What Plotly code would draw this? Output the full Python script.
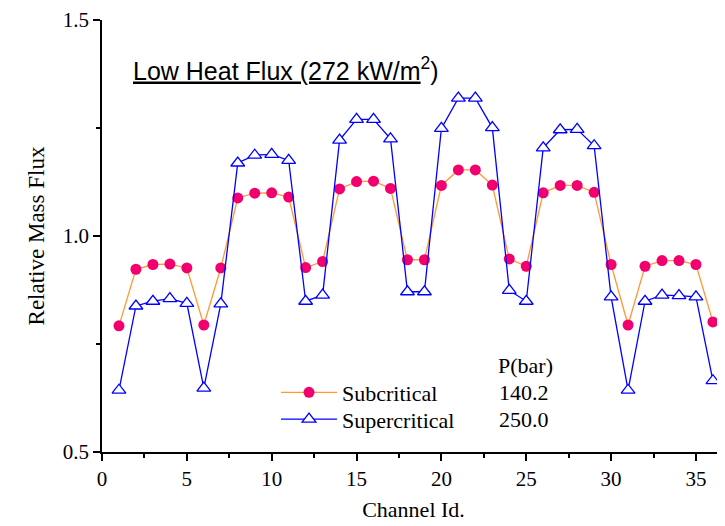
import plotly.graph_objects as go

channels = list(range(1, 37))
subcritical = [0.792, 0.923, 0.934, 0.935, 0.926, 0.794, 0.926,
               1.088, 1.099, 1.100, 1.090, 0.927, 0.941,
               1.109, 1.126, 1.127, 1.110, 0.945, 0.945,
               1.117, 1.153, 1.153, 1.118, 0.947, 0.930,
               1.100, 1.117, 1.117, 1.101,
               0.934, 0.794, 0.930, 0.943, 0.943, 0.934, 0.801]
supercritical = [0.643, 0.838, 0.849, 0.855, 0.844, 0.648, 0.843,
                 1.169, 1.187, 1.189, 1.175, 0.849, 0.863,
                 1.222, 1.270, 1.270, 1.225, 0.871, 0.871,
                 1.249, 1.319, 1.319, 1.251, 0.874, 0.849,
                 1.204, 1.246, 1.247, 1.209,
                 0.859, 0.643, 0.849, 0.863, 0.862, 0.859, 0.665]
series_names = ["Subcritical", "Supercritical"]
pressures = ["140.2", "250.0"]
x_ticks = [0, 5, 10, 15, 20, 25, 30, 35]
y_ticks = [0.5, 1.0, 1.5]

# page body has an 8px margin, so the figure is placed at (8, 8) in the window
OFF = 8
W, H = 717, 518
L, R, T, B = 94, 0, 8, 74
pw = W - L - R
ph = H - T - B
xmax = pw / 16.97
serif = "Liberation Serif, Times New Roman, serif"

def px(xw):
    return (xw - OFF - L) / pw

def py(yw):
    return (T + ph - (yw - OFF)) / ph

fig = go.Figure()
fig.add_trace(go.Scatter(
    x=channels, y=subcritical, name=series_names[0], mode="lines+markers",
    line=dict(color="#FF9933", width=1.3),
    marker=dict(symbol="circle", size=11, color="#F2006E"),
    legend="legend",
))
fig.add_trace(go.Scatter(
    x=channels, y=supercritical, name=series_names[1], mode="lines+markers",
    line=dict(color="#0000FF", width=1.3),
    marker=dict(symbol="triangle-up", size=12, color="white",
                line=dict(color="#0000FF", width=1.3)),
    legend="legend2",
))

axis_common = dict(showgrid=False, zeroline=False, linecolor="black", linewidth=1.6,
                   tickcolor="black", tickwidth=1.5)
legend_common = dict(xanchor="left", yanchor="middle", bgcolor="rgba(0,0,0,0)",
                     font=dict(family=serif, size=22, color="black"), itemwidth=56)
fig.update_layout(
    width=W, height=H,
    margin=dict(l=L, r=R, t=T, b=B),
    plot_bgcolor="white", paper_bgcolor="white",
    xaxis=dict(range=[0, xmax], tickvals=x_ticks, ticks="outside", ticklen=7,
               showline=True, ticklabeloverflow="allow",
               minor=dict(dtick=2.5, tick0=0, ticks="outside", ticklen=4,
                          tickcolor="black", tickwidth=1.5),
               tickfont=dict(family=serif, size=21, color="black"),
               title=dict(text="Channel Id.", font=dict(family=serif, size=22, color="black"),
                          standoff=12),
               **axis_common),
    yaxis=dict(range=[0.5, 1.5], tickvals=y_ticks, ticktext=["0.5", "1.0", "1.5"],
               ticks="outside", ticklen=7, showline=True, ticklabeloverflow="allow",
               minor=dict(dtick=0.25, tick0=0.5, ticks="outside", ticklen=4,
                          tickcolor="black", tickwidth=1.5),
               tickfont=dict(family=serif, size=21, color="black"),
               title=dict(text="Relative Mass Flux", font=dict(family=serif, size=23, color="black"),
                          standoff=12),
               **axis_common),
    xaxis2=dict(range=[0, xmax], overlaying="x", side="top", anchor="y",
                tickvals=x_ticks, ticks="inside", ticklen=7, showticklabels=False,
                showline=True,
                minor=dict(dtick=2.5, tick0=0, ticks="inside", ticklen=4,
                           tickcolor="black", tickwidth=1.5),
                **axis_common),
    yaxis2=dict(range=[0.5, 1.5], overlaying="y", side="right", anchor="x",
                tickvals=y_ticks, ticks="inside", ticklen=7, showticklabels=False,
                showline=False,
                minor=dict(dtick=0.25, tick0=0.5, ticks="inside", ticklen=4,
                           tickcolor="black", tickwidth=1.5),
                **axis_common),
    legend=dict(x=px(276), y=py(392), **legend_common),
    legend2=dict(x=px(276), y=py(419), **legend_common),
    showlegend=True,
)

annotations = [
    dict(text="<u>Low Heat Flux (272 kW/m</u><sup>2</sup>)", x=px(131), y=py(65),
         xanchor="left", yanchor="middle",
         font=dict(family="Liberation Sans, Arial, sans-serif", size=25, color="black")),
    dict(text="P(bar)", x=px(525), y=py(365), xanchor="center", yanchor="middle",
         font=dict(family=serif, size=22, color="black")),
    dict(text=pressures[0], x=px(524), y=py(392), xanchor="center", yanchor="middle",
         font=dict(family=serif, size=22, color="black")),
    dict(text=pressures[1], x=px(524), y=py(419), xanchor="center", yanchor="middle",
         font=dict(family=serif, size=22, color="black")),
]
for a in annotations:
    a.update(xref="paper", yref="paper", showarrow=False)
fig.update_layout(annotations=annotations)

fig.write_html("out.html")
